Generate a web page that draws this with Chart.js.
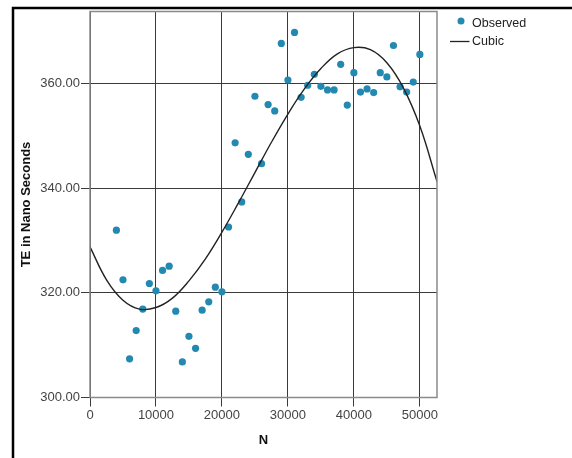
<!DOCTYPE html>
<html>
<head>
<meta charset="utf-8">
<script src="https://cdn.jsdelivr.net/npm/chart.js@4"></script>
<style>
  body { margin: 0; background: #fff; }
  canvas { display: block; }
</style>
</head>
<body>
<canvas id="chart" width="572" height="458"></canvas>
<script>
// Observed values, N = 4000 ... 50000 in steps of 1000
const observedN = [
    4000, 5000, 6000, 7000, 8000, 9000, 10000, 11000, 12000, 13000,
    14000, 15000, 16000, 17000, 18000, 19000, 20000, 21000, 22000, 23000,
    24000, 25000, 26000, 27000, 28000, 29000, 30000, 31000, 32000, 33000,
    34000, 35000, 36000, 37000, 38000, 39000, 40000, 41000, 42000, 43000,
    44000, 45000, 46000, 47000, 48000, 49000, 50000
];
const observedTE = [
    332.0, 322.5, 307.4, 312.8, 316.9, 321.8, 320.4, 324.3, 325.1, 316.5,
    306.8, 311.7, 309.4, 316.7, 318.3, 321.1, 320.2, 332.6, 348.7, 337.4,
    346.5, 357.6, 344.7, 356.0, 354.8, 367.7, 360.7, 369.8, 357.4, 359.7,
    361.8, 359.5, 358.8, 358.8, 363.7, 355.9, 362.1, 358.4, 359.0, 358.3,
    362.1, 361.3, 367.3, 359.4, 358.4, 360.3, 365.6
];

// Cubic fit line
const cubicN = [
    0, 2500, 5000, 7500, 10000, 12500, 15000, 17500, 20000, 22500,
    25000, 27500, 30000, 32500, 35000, 37500, 40000, 42500, 45000, 47500,
    50000, 52500, 52600
];
const cubicTE = [
    328.8, 322.5, 318.6, 316.9, 317.2, 319.0, 322.3, 326.5, 331.6, 337.2,
    343.0, 348.8, 354.2, 359.0, 362.9, 365.7, 366.9, 366.5, 364.0, 359.2,
    351.9, 341.7, 341.2
];

const xTicks = [0, 10000, 20000, 30000, 40000, 50000];
const yTicks = [300, 320, 340, 360];

const FONT = "'Liberation Sans', Arial, sans-serif";
const pointColor = '#2389b0';
const gridColor = '#3a3a3a';

// Page frame, plot border and legend drawn by hand
const framePlugin = {
    id: 'frame',
    beforeDraw(chart) {
        const ctx = chart.ctx;
        ctx.save();
        ctx.fillStyle = '#fff';
        ctx.fillRect(0, 0, chart.width, chart.height);
        ctx.restore();
    },
    afterDraw(chart) {
        const ctx = chart.ctx;
        const area = chart.chartArea;
        ctx.save();

        // plot border
        ctx.strokeStyle = '#8a8a8a';
        ctx.lineWidth = 1.5;
        ctx.strokeRect(area.left, area.top, area.right - area.left, area.bottom - area.top);

        // outer frame (top and left only)
        ctx.strokeStyle = '#000';
        ctx.lineWidth = 2.5;
        ctx.beginPath();
        ctx.moveTo(13, chart.height);
        ctx.lineTo(13, 8);
        ctx.lineTo(chart.width, 8);
        ctx.stroke();

        // legend
        ctx.fillStyle = pointColor;
        ctx.beginPath();
        ctx.arc(461, 21, 3.5, 0, Math.PI * 2);
        ctx.fill();

        ctx.strokeStyle = '#222';
        ctx.lineWidth = 1.3;
        ctx.beginPath();
        ctx.moveTo(450, 41.5);
        ctx.lineTo(469.5, 41.5);
        ctx.stroke();

        ctx.fillStyle = '#222';
        ctx.font = '12.5px ' + FONT;
        ctx.textBaseline = 'middle';
        ctx.textAlign = 'left';
        ctx.fillText('Observed', 472, 24);
        ctx.fillText('Cubic', 472, 42);
        ctx.restore();
    }
};

const ctx = document.getElementById('chart').getContext('2d');
new Chart(ctx, {
    type: 'scatter',
    data: {
        datasets: [
            {
                label: 'Observed',
                data: observedN.map((n, i) => ({ x: n, y: observedTE[i] })),
                backgroundColor: pointColor,
                borderWidth: 0,
                pointRadius: 3.6,
                order: 1
            },
            {
                label: 'Cubic',
                type: 'line',
                data: cubicN.map((n, i) => ({ x: n, y: cubicTE[i] })),
                borderColor: '#222',
                borderWidth: 1.4,
                pointRadius: 0,
                fill: false,
                tension: 0.4,
                order: 0
            }
        ]
    },
    options: {
        responsive: false,
        animation: false,
        devicePixelRatio: 1,
        layout: { padding: { left: 0, right: 135, top: 11.5, bottom: 0 } },
        plugins: {
            legend: { display: false },
            tooltip: { enabled: false }
        },
        scales: {
            x: {
                type: 'linear',
                min: 0,
                max: 52600,
                afterBuildTicks: (scale) => {
                    scale.ticks = xTicks.map(v => ({ value: v }));
                },
                afterFit: (scale) => { scale.height = 60.5; },
                border: { display: false },
                grid: { color: gridColor, lineWidth: 1, tickLength: 9, tickColor: gridColor },
                ticks: {
                    color: '#444',
                    padding: 1,
                    maxRotation: 0,
                    font: { family: FONT, size: 13 },
                    callback: (v) => String(v)
                },
                title: {
                    display: true,
                    text: 'N',
                    color: '#111',
                    font: { family: FONT, size: 13, weight: 'bold' },
                    padding: { top: 0, bottom: 10 }
                }
            },
            y: {
                type: 'linear',
                min: 300,
                max: 373.8,
                afterBuildTicks: (scale) => {
                    scale.ticks = yTicks.map(v => ({ value: v }));
                },
                afterFit: (scale) => { scale.width = 90; },
                border: { display: false },
                grid: { color: gridColor, lineWidth: 1, tickLength: 9, tickColor: gridColor },
                ticks: {
                    color: '#444',
                    padding: 1,
                    font: { family: FONT, size: 13 },
                    callback: (v) => Number(v).toFixed(2)
                },
                title: {
                    display: true,
                    text: 'TE in Nano Seconds',
                    color: '#111',
                    font: { family: FONT, size: 13, weight: 'bold' },
                    padding: { top: 19, bottom: 0 }
                }
            }
        }
    },
    plugins: [framePlugin]
});
</script>
</body>
</html>
